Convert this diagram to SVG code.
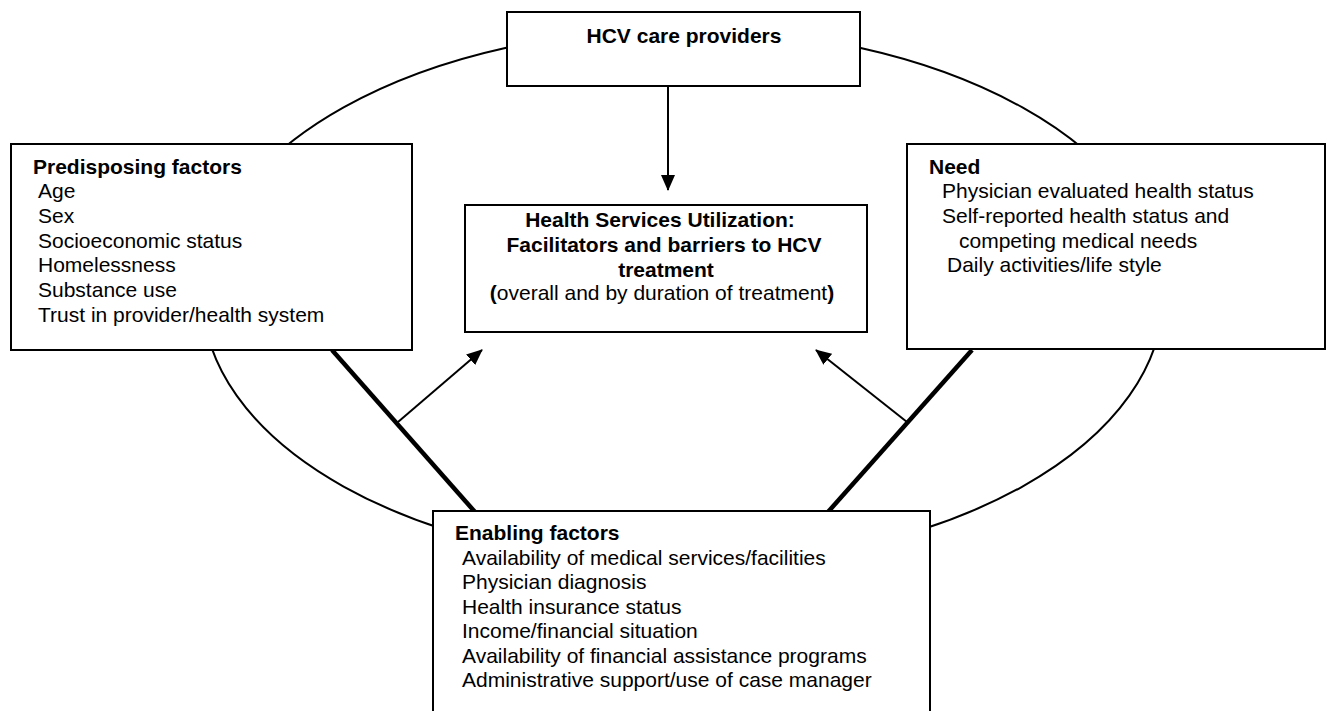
<svg xmlns="http://www.w3.org/2000/svg" width="1329" height="711" viewBox="0 0 1329 711">
<style>
text{font-family:"Liberation Sans",Arial,sans-serif;font-size:21px;fill:#000}
.b{font-weight:bold}
.box{fill:#fff;stroke:#000;stroke-width:2}
.thin{stroke:#000;stroke-width:2;fill:none}
.thick{stroke:#000;stroke-width:4.5;fill:none}
</style>
<defs>
<marker id="ah" markerUnits="userSpaceOnUse" markerWidth="16" markerHeight="14" refX="15" refY="7" orient="auto">
<path d="M0,0 L16,7 L0,14 Z" fill="#000"/>
</marker>
</defs>
<rect width="1329" height="711" fill="#fff"/>
<g id="cycle">
<ellipse cx="683" cy="297" rx="480" ry="268" fill="none" stroke="#000" stroke-width="2"/>
</g>
<g id="connectors">
<line class="thick" x1="332" y1="350" x2="475" y2="512"/>
<line class="thick" x1="972" y1="350" x2="828" y2="512"/>
<line class="thin" x1="668" y1="86" x2="668" y2="190" marker-end="url(#ah)"/>
<line class="thin" x1="398" y1="422" x2="482" y2="350" marker-end="url(#ah)"/>
<line class="thin" x1="907" y1="422" x2="816" y2="350" marker-end="url(#ah)"/>
</g>
<g id="providers">
<rect class="box" x="507" y="12" width="353" height="74"/>
<text class="b" x="684" y="43" text-anchor="middle">HCV care providers</text>
</g>
<g id="predisposing">
<rect class="box" x="11" y="144" width="401" height="206"/>
<text class="b" x="33" y="174">Predisposing factors</text>
<text x="38" y="198">Age</text>
<text x="38" y="223">Sex</text>
<text x="38" y="248">Socioeconomic status</text>
<text x="38" y="272">Homelessness</text>
<text x="38" y="297">Substance use</text>
<text x="38" y="322">Trust in provider/health system</text>
</g>
<g id="need">
<rect class="box" x="907" y="144" width="418" height="205"/>
<text class="b" x="929" y="174">Need</text>
<text x="942" y="198">Physician evaluated health status</text>
<text x="942" y="223">Self-reported health status and</text>
<text x="959" y="248">competing medical needs</text>
<text x="947" y="272">Daily activities/life style</text>
</g>
<g id="utilization">
<rect class="box" x="465" y="205" width="402" height="127"/>
<text class="b" x="660" y="227" text-anchor="middle">Health Services Utilization:</text>
<text class="b" x="664" y="252" text-anchor="middle">Facilitators and barriers to HCV</text>
<text class="b" x="666" y="277" text-anchor="middle">treatment</text>
<text x="662" y="300" text-anchor="middle"><tspan class="b">(</tspan>overall and by duration of treatment<tspan class="b">)</tspan></text>
</g>
<g id="enabling">
<rect class="box" x="433" y="511" width="497" height="215"/>
<text class="b" x="455" y="540">Enabling factors</text>
<text x="462" y="565">Availability of medical services/facilities</text>
<text x="462" y="589">Physician diagnosis</text>
<text x="462" y="614">Health insurance status</text>
<text x="462" y="638">Income/financial situation</text>
<text x="462" y="663">Availability of financial assistance programs</text>
<text x="462" y="687">Administrative support/use of case manager</text>
</g>
</svg>
